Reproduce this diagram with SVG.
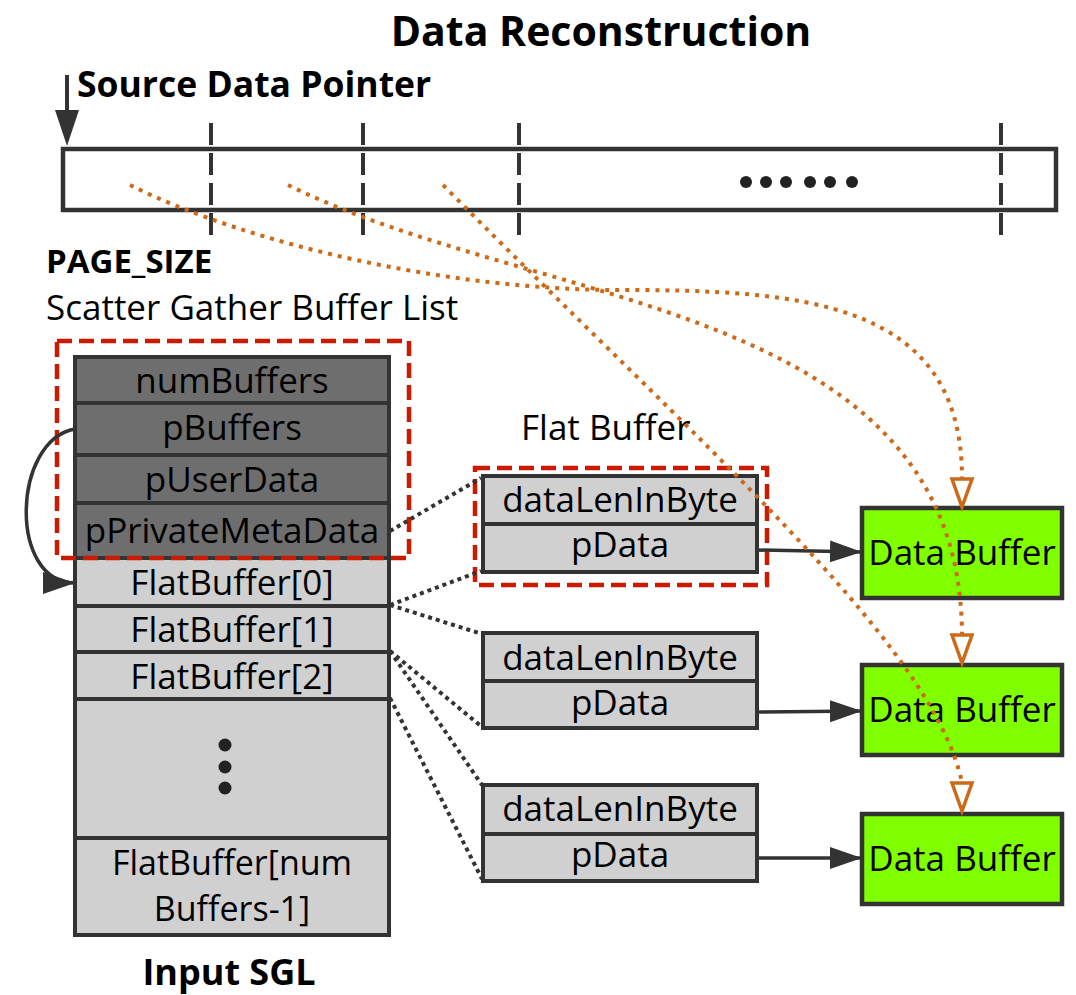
<svg xmlns="http://www.w3.org/2000/svg" width="1076" height="995" viewBox="0 0 1076 995">
  <style>
    text { font-family: "Open Sans", "Noto Sans", sans-serif; fill: #000; }
    .t35 { font-size: 35px; }
    .mid { text-anchor: middle; }
    .bold { font-weight: 700; }
    .cellDark { fill: #6e6e6e; stroke: #333; stroke-width: 4; }
    .cellLight { fill: #d0d0d0; stroke: #333; stroke-width: 4; }
    .dataBuf { fill: #80ff00; stroke: #333; stroke-width: 4.5; }
    .redDash { fill: none; stroke: #cc1a00; stroke-width: 4.5; stroke-dasharray: 15 7; }
    .tick { stroke: #333; stroke-width: 4; stroke-dasharray: 22 8; }
    .ptrDot { fill: none; stroke: #333; stroke-width: 4; stroke-dasharray: 4 4; }
    .srcMap { fill: none; stroke: #cc6a1a; stroke-width: 4; stroke-dasharray: 4 6; }
    .openHead { fill: #fff; stroke: #cc6a1a; stroke-width: 3.5; }
    .solid { fill: none; stroke: #333; stroke-width: 3.5; }
  </style>
  <defs>
    <marker id="solidHead" markerWidth="32" markerHeight="22" refX="32" refY="11" orient="auto" markerUnits="userSpaceOnUse">
      <path d="M0,0 L32,11 L0,22 Z" fill="#333"/>
    </marker>
  </defs>

  <!-- headings -->
  <text class="bold mid" x="601" y="46" style="font-size:41px">Data Reconstruction</text>
  <text class="bold" x="77" y="97" style="font-size:35.5px">Source Data Pointer</text>
  <text class="bold" x="46" y="273" style="font-size:33px">PAGE_SIZE</text>
  <text class="t35" x="46" y="320">Scatter Gather Buffer List</text>
  <text class="t35" x="521" y="440">Flat Buffer</text>
  <text class="bold mid" x="229" y="985" style="font-size:36px">Input SGL</text>

  <!-- source data strip -->
  <g id="source-data">
    <rect x="63" y="149" width="993" height="61" fill="#fff" stroke="#333" stroke-width="4.5"/>
    <line class="tick" x1="211" y1="123" x2="211" y2="237"/>
    <line class="tick" x1="363" y1="123" x2="363" y2="237"/>
    <line class="tick" x1="519" y1="123" x2="519" y2="237"/>
    <line class="tick" x1="1001" y1="123" x2="1001" y2="237"/>
    <g fill="#222">
      <circle cx="746" cy="182" r="6"/>
      <circle cx="766" cy="182" r="6"/>
      <circle cx="786" cy="182" r="6"/>
      <circle cx="810" cy="182" r="6"/>
      <circle cx="830" cy="182" r="6"/>
      <circle cx="852" cy="182" r="6"/>
    </g>
  </g>

  <!-- source data pointer -->
  <g id="source-pointer">
    <line x1="67" y1="75" x2="67" y2="112" stroke="#333" stroke-width="4"/>
    <polygon points="55,110 79,110 67,146" fill="#333"/>
  </g>

  <!-- input scatter gather list -->
  <g id="input-sgl">
    <rect class="cellDark" x="75" y="357" width="314" height="46"/>
    <text class="t35 mid" x="232" y="393">numBuffers</text>
    <rect class="cellDark" x="75" y="403" width="314" height="52"/>
    <text class="t35 mid" x="232" y="440">pBuffers</text>
    <rect class="cellDark" x="75" y="455" width="314" height="48"/>
    <text class="t35 mid" x="232" y="492">pUserData</text>
    <rect class="cellDark" x="75" y="503" width="314" height="55"/>
    <text class="t35 mid" x="232" y="543">pPrivateMetaData</text>
    <rect class="cellLight" x="75" y="558" width="314" height="48"/>
    <text class="t35 mid" x="232" y="595">FlatBuffer[0]</text>
    <rect class="cellLight" x="75" y="606" width="314" height="46"/>
    <text class="t35 mid" x="232" y="642">FlatBuffer[1]</text>
    <rect class="cellLight" x="75" y="652" width="314" height="47"/>
    <text class="t35 mid" x="232" y="689">FlatBuffer[2]</text>
    <rect class="cellLight" x="75" y="699" width="314" height="139"/>
    <g fill="#222">
      <circle cx="225" cy="745" r="6.5"/>
      <circle cx="225" cy="767" r="6.5"/>
      <circle cx="225" cy="788" r="6.5"/>
    </g>
    <rect class="cellLight" x="75" y="838" width="314" height="97"/>
    <text class="mid" x="232" y="875" style="font-size:34px">FlatBuffer[num</text>
    <text class="mid" x="232" y="921" style="font-size:34px">Buffers-1]</text>
  </g>
  <rect id="sgl-header-mark" class="redDash" x="57" y="341" width="352" height="217"/>

  <!-- flat buffers -->
  <g id="flat-buffer-0">
    <rect class="cellLight" x="483" y="476" width="274" height="48"/>
    <text class="t35 mid" x="620" y="512">dataLenInByte</text>
    <rect class="cellLight" x="483" y="524" width="274" height="48"/>
    <text class="t35 mid" x="620" y="557">pData</text>
  </g>
  <rect id="flat-buffer-mark" class="redDash" x="475" y="468" width="292" height="117"/>
  <g id="flat-buffer-1">
    <rect class="cellLight" x="483" y="633" width="274" height="48"/>
    <text class="t35 mid" x="620" y="670">dataLenInByte</text>
    <rect class="cellLight" x="483" y="681" width="274" height="47"/>
    <text class="t35 mid" x="620" y="715">pData</text>
  </g>
  <g id="flat-buffer-2">
    <rect class="cellLight" x="483" y="785" width="274" height="49"/>
    <text class="t35 mid" x="620" y="821">dataLenInByte</text>
    <rect class="cellLight" x="483" y="834" width="274" height="47"/>
    <text class="t35 mid" x="620" y="867">pData</text>
  </g>

  <!-- data buffers -->
  <g id="data-buffer-0">
    <rect class="dataBuf" x="862" y="508" width="200" height="90"/>
    <text class="t35 mid" x="962" y="565">Data Buffer</text>
  </g>
  <g id="data-buffer-1">
    <rect class="dataBuf" x="862" y="665" width="200" height="90"/>
    <text class="t35 mid" x="962" y="722">Data Buffer</text>
  </g>
  <g id="data-buffer-2">
    <rect class="dataBuf" x="862" y="814" width="200" height="90"/>
    <text class="t35 mid" x="962" y="871">Data Buffer</text>
  </g>

  <!-- connectors -->
  <g id="connectors">
    <!-- pBuffers points at the first flat buffer entry -->
    <path class="solid" d="M75,429 C12,440 8,583 75,583" marker-end="url(#solidHead)"/>

    <!-- SGL entries to flat buffer structures -->
    <line class="ptrDot" x1="390" y1="531" x2="481" y2="478"/>
    <line class="ptrDot" x1="390" y1="605" x2="481" y2="571"/>
    <line class="ptrDot" x1="390" y1="605" x2="482" y2="634"/>
    <line class="ptrDot" x1="390" y1="651" x2="482" y2="727"/>
    <line class="ptrDot" x1="390" y1="651" x2="482" y2="785"/>
    <line class="ptrDot" x1="390" y1="698" x2="482" y2="879"/>

    <!-- pData to data buffers -->
    <line class="solid" x1="757" y1="550" x2="862" y2="552" marker-end="url(#solidHead)"/>
    <line class="solid" x1="757" y1="712" x2="862" y2="711" marker-end="url(#solidHead)"/>
    <line class="solid" x1="757" y1="858" x2="862" y2="858" marker-end="url(#solidHead)"/>

    <!-- source pages copied into data buffers -->
    <path class="srcMap" d="M130,185 C250,245 450,290 620,290 C800,290 962,300 962,478"/>
    <polygon class="openHead" points="952,479 972,479 962,507"/>
    <path class="srcMap" d="M288,185 C540,310 960,300 962,634"/>
    <polygon class="openHead" points="952,635 972,635 962,663"/>
    <path class="srcMap" d="M443,185 C700,445 930,640 962,782"/>
    <polygon class="openHead" points="952,783 972,783 962,811"/>
  </g>
</svg>
